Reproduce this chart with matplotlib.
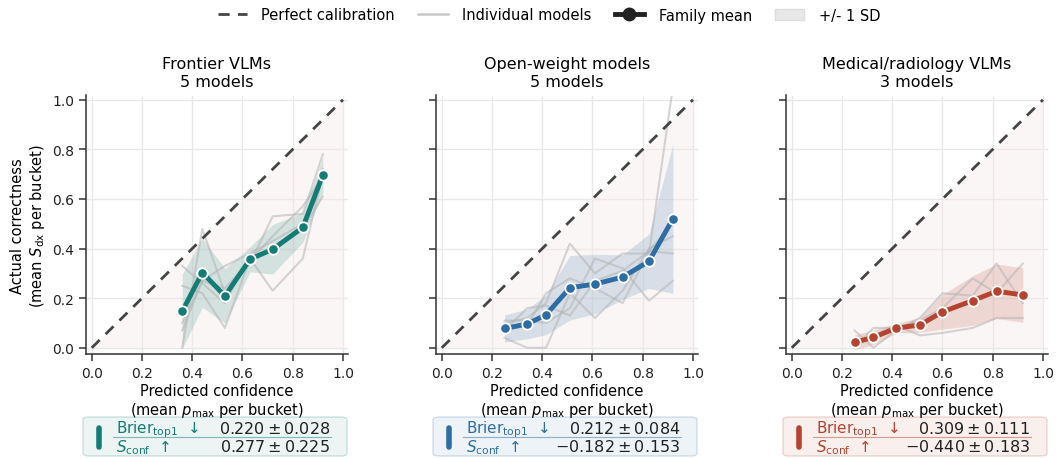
import numpy as np
import matplotlib
matplotlib.use("Agg")
import matplotlib.pyplot as plt
from matplotlib.lines import Line2D
from matplotlib.patches import Patch, FancyBboxPatch

# ---- data ----
titles = ["Frontier VLMs\n5 models", "Open-weight models\n5 models", "Medical/radiology VLMs\n3 models"]
colors = ["#137c75", "#2d6da3", "#b5432f"]

# frontier
x_front = [0.36, 0.44, 0.53, 0.63, 0.72, 0.84, 0.92]
mean_front = [0.147, 0.303, 0.209, 0.357, 0.397, 0.485, 0.697]
sd_front = [0.15, 0.14, 0.11, 0.05, 0.10, 0.06, 0.07]
models_front = [
    [0.00, 0.48, 0.22, 0.34, 0.53, 0.54, 0.78],
    [0.33, 0.26, 0.18, 0.37, 0.39, 0.48, 0.61],
    [0.25, 0.22, 0.08, 0.36, 0.23, 0.36, 0.70],
    [0.10, 0.27, 0.33, 0.38, 0.43, 0.50, 0.72],
    [0.07, 0.27, 0.24, 0.35, 0.45, 0.57, 0.69],
]

# open-weight
x_open = [0.25, 0.34, 0.415, 0.51, 0.61, 0.72, 0.825, 0.92]
mean_open = [0.078, 0.096, 0.133, 0.242, 0.257, 0.285, 0.349, 0.520]
sd_open = [0.055, 0.06, 0.08, 0.13, 0.12, 0.09, 0.11, 0.30]
models_open = [
    [0.10, 0.12, 0.18, 0.42, 0.30, 0.38, 0.38, 1.05],
    [0.11, 0.11, 0.10, 0.16, 0.36, 0.32, 0.19, 0.27],
    [0.04, 0.00, 0.00, 0.22, 0.12, 0.23, 0.40, 0.45],
    [0.07, 0.09, 0.22, 0.28, 0.24, 0.18, 0.39, 0.50],
    [0.07, 0.16, 0.17, 0.13, 0.27, 0.31, 0.39, 0.38],
]

# medical
x_med = [0.25, 0.325, 0.415, 0.51, 0.60, 0.72, 0.815, 0.92]
mean_med = [0.022, 0.042, 0.079, 0.092, 0.145, 0.190, 0.228, 0.213]
sd_med = [0.03, 0.03, 0.02, 0.03, 0.07, 0.10, 0.11, 0.11]
models_med = [
    [0.00, 0.05, 0.09, 0.05, 0.06, 0.08, 0.12, 0.12],
    [0.07, 0.00, 0.07, 0.12, 0.22, 0.21, 0.34, 0.18],
    [0.00, 0.08, 0.08, 0.11, 0.16, 0.28, 0.22, 0.34],
]

brier = ["0.220 \\pm 0.028", "0.212 \\pm 0.084", "0.309 \\pm 0.111"]
sconf = ["0.277 \\pm 0.225", "-0.182 \\pm 0.153", "-0.440 \\pm 0.183"]

xs = [x_front, x_open, x_med]
means = [mean_front, mean_open, mean_med]
sds = [sd_front, sd_open, sd_med]
models = [models_front, models_open, models_med]

W, H = 1056, 460
fig = plt.figure(figsize=(W / 100, H / 100), dpi=100)
plt.rcParams["font.family"] = "DejaVu Sans"

lefts = [86, 436, 786]
for i in range(3):
    ax = fig.add_axes([lefts[i] / W, 1 - 355 / H, 262 / W, (355 - 96.5) / H])
    ax.set_xlim(-0.023, 1.02)
    ax.set_ylim(-0.025, 1.017)
    ax.set_xticks(np.arange(0, 1.01, 0.2))
    ax.set_yticks(np.arange(0, 1.01, 0.2))
    ax.grid(color="#e8e8e8", lw=1.0, zorder=0)
    ax.set_axisbelow(True)
    for s in ["top", "right"]:
        ax.spines[s].set_visible(False)
    for s in ["left", "bottom"]:
        ax.spines[s].set_color("#333333")
        ax.spines[s].set_linewidth(1.1)
    ax.tick_params(length=5, width=1.1, color="#333333", labelsize=10, labelcolor="#222222")

    diag = np.array([0, 1])
    ax.fill_between(diag, 0, diag, color="#f6ecea", alpha=0.45, lw=0, zorder=1)
    ax.plot(diag, diag, ls=(0, (4, 3)), color="#444444", lw=2, zorder=5)

    c = colors[i]
    x = np.array(xs[i])
    m = np.array(means[i])
    sd = np.array(sds[i])
    ax.fill_between(x, m - sd, m + sd, color=c, alpha=0.17, lw=0, zorder=2)
    for yv in models[i]:
        ax.plot(x, yv, color="#b4b4b4", alpha=0.55, lw=1.5, zorder=3)
    ax.plot(x, m, color=c, lw=3.5, marker="o", ms=7.5, mfc=c, mec="white", mew=1.3, zorder=6)

    ax.set_title(titles[i], fontsize=11.5, pad=7)
    ax.set_xlabel("Predicted confidence\n(mean $p_{\\max}$ per bucket)", fontsize=10.5, labelpad=2)
    if i == 0:
        ax.set_ylabel("Actual correctness\n(mean $S_{\\mathrm{dx}}$ per bucket)", fontsize=10.5)
    else:
        ax.tick_params(labelleft=False)

    # metric box below each panel
    bx0, bx1, by0, by1 = lefts[i] - 3, lefts[i] + 261, 418, 457
    box = FancyBboxPatch((bx0 / W, 1 - by1 / H), (bx1 - bx0) / W, (by1 - by0) / H,
                         boxstyle="round,pad=0,rounding_size=0.006",
                         transform=fig.transFigure, facecolor=c, alpha=0.08,
                         edgecolor="none")
    fig.patches.append(box)
    edge = FancyBboxPatch((bx0 / W, 1 - by1 / H), (bx1 - bx0) / W, (by1 - by0) / H,
                          boxstyle="round,pad=0,rounding_size=0.006",
                          transform=fig.transFigure, facecolor="none",
                          edgecolor=c, alpha=0.2, lw=1.0)
    fig.patches.append(edge)
    fig.add_artist(Line2D([(bx0 + 16) / W] * 2, [1 - 429 / H, 1 - 448 / H], color=c,
                          lw=4, solid_capstyle="round", transform=fig.transFigure))
    fig.add_artist(Line2D([(bx0 + 30) / W, (bx0 + 248) / W], [1 - 438 / H] * 2, color=c,
                          lw=0.8, alpha=0.5, transform=fig.transFigure))
    fig.text((bx0 + 33) / W, 1 - 429.5 / H, "Brier$_{\\mathrm{top1}}$  \u2193", color=c,
             fontsize=11, va="center", ha="left")
    fig.text((bx0 + 33) / W, 1 - 447.5 / H, "$S_{\\mathrm{conf}}$  \u2191", color=c,
             fontsize=11, va="center", ha="left")
    fig.text((bx0 + 247) / W, 1 - 429.5 / H, "$" + brier[i] + "$", color="#222222",
             fontsize=11.5, va="center", ha="right")
    fig.text((bx0 + 247) / W, 1 - 447.5 / H, "$" + sconf[i] + "$", color="#222222",
             fontsize=11.5, va="center", ha="right")

handles = [
    Line2D([], [], ls=(0, (4, 3)), color="#444444", lw=2),
    Line2D([], [], color="#c8c8c8", lw=1.8),
    Line2D([], [], color="#222222", lw=3.5, marker="o", ms=9),
    Patch(facecolor="#e8e8e8", edgecolor="#dddddd"),
]
labels = ["Perfect calibration", "Individual models", "Family mean", "+/- 1 SD"]
fig.legend(handles, labels, loc="center", bbox_to_anchor=(0.52, 1 - 16 / H), ncol=4,
           frameon=False, fontsize=10.5, handlelength=2.0, handletextpad=1.0,
           columnspacing=1.6)

fig.savefig("out.png", dpi=100)
